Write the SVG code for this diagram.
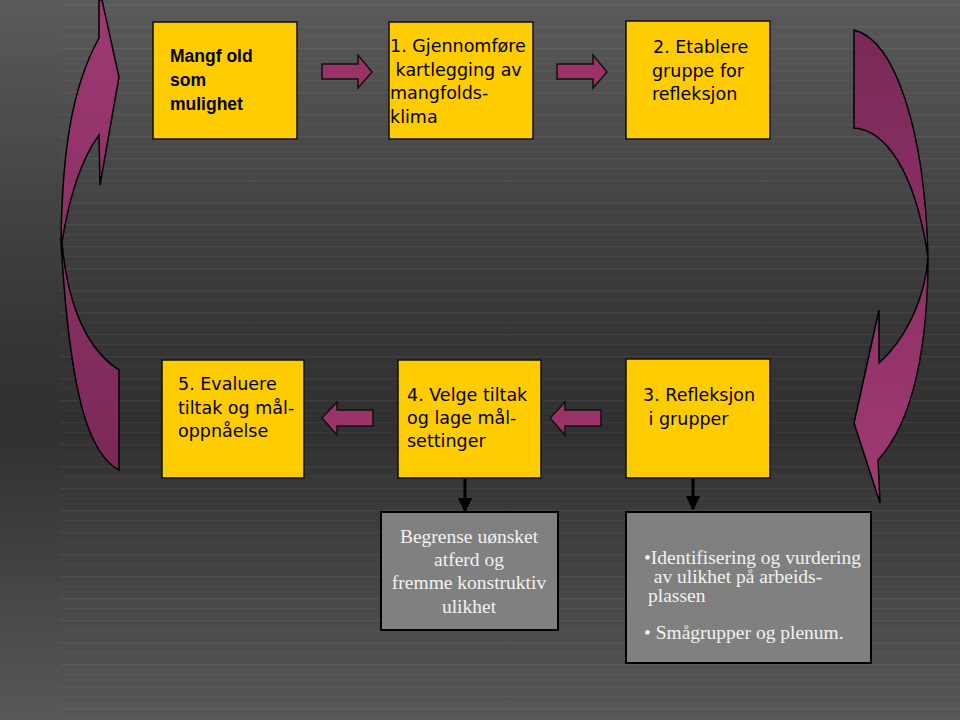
<svg xmlns="http://www.w3.org/2000/svg" width="960" height="720" viewBox="0 0 960 720">
<defs>
<linearGradient id="bg" x1="0" y1="0" x2="0" y2="1">
<stop offset="0" stop-color="#5a5a5a"/>
<stop offset="0.45" stop-color="#363636"/>
<stop offset="0.6" stop-color="#303030"/>
<stop offset="1" stop-color="#585858"/>
</linearGradient>
<pattern id="stripes" x="0" y="0" width="960" height="22" patternUnits="userSpaceOnUse">
<rect x="60" y="4" width="900" height="1.2" fill="#ffffff" opacity="0.06"/>
<rect x="60" y="14" width="900" height="1" fill="#ffffff" opacity="0.04"/>
</pattern>
<linearGradient id="mag" x1="0" y1="0" x2="0" y2="1">
<stop offset="0" stop-color="#9e3a72"/>
<stop offset="1" stop-color="#7a2858"/>
</linearGradient>
<linearGradient id="mag2" x1="0" y1="0" x2="0" y2="1">
<stop offset="0" stop-color="#7a2858"/>
<stop offset="1" stop-color="#a03a74"/>
</linearGradient>
<marker id="ah" viewBox="0 0 10 10" refX="9" refY="5" markerWidth="5" markerHeight="5" orient="auto">
<path d="M0,0 L10,5 L0,10 Z" fill="#000"/>
</marker>
</defs>
<style>
text{white-space:pre}
.ybox{fill:#ffcc00;stroke:#111;stroke-width:1.5}
.gbox{fill:#808080;stroke:#000;stroke-width:2}
.sarrow{fill:#9a3468;stroke:#111;stroke-width:1.5}
.big{stroke:#000;stroke-width:1.5}
.comic{font-family:"DejaVu Sans",sans-serif;font-size:17.5px;fill:#000}
.arial{font-family:"Liberation Sans",Arial,sans-serif;font-size:17.5px;font-weight:bold;fill:#000}
.serif{font-family:"Liberation Serif","Times New Roman",serif;font-size:19.5px;fill:#f2f2f2}
.conn{stroke:#000;stroke-width:3;fill:none}
</style>
<rect width="960" height="720" fill="url(#bg)"/>
<rect width="960" height="720" fill="url(#stripes)"/>

<g id="bigarrow-left">
<path class="big" fill="url(#mag)" d="M99,0 L102,0 L119,77 L100,185 L99,135 C88,150 72,180 62,242 C66,290 80,345 119,370 L119,470 C90,455 70,400 61,242 C62,160 70,90 99,38 Z"/>
</g>
<g id="bigarrow-right">
<path class="big" fill="url(#mag2)" d="M854,30 C895,40 925,130 928,257 C928,340 915,420 878,460 L880,503 L854,423 L879,310 L879,363 C905,340 925,300 928,257 C915,170 885,130 854,128 Z"/>
</g>

<g id="connectors">
<path class="sarrow" d="M322,64 L358,64 L358,55 L372,72 L358,88 L358,79 L322,79 Z"/>
<path class="sarrow" d="M557,64 L593,64 L593,55 L607,72 L593,88 L593,79 L557,79 Z"/>
<path class="sarrow" d="M373,410 L337,410 L337,402 L322,418 L337,435 L337,426 L373,426 Z"/>
<path class="sarrow" d="M601,410 L565,410 L565,402 L550,418 L565,435 L565,426 L601,426 Z"/>
<line class="conn" x1="465" y1="478" x2="465" y2="511" marker-end="url(#ah)"/>
<line class="conn" x1="693" y1="478" x2="693" y2="509" marker-end="url(#ah)"/>
</g>

<g id="node-mangfold">
<rect class="ybox" x="153" y="22" width="144" height="117"/>
<text class="arial" x="170" y="62">Mangf old</text>
<text class="arial" x="170" y="86">som</text>
<text class="arial" x="170" y="110">mulighet</text>
</g>
<g id="node-1">
<rect class="ybox" x="389" y="22" width="144" height="117"/>
<text class="comic" x="390" y="52">1. Gjennomføre</text>
<text class="comic" x="390" y="76"> kartlegging av</text>
<text class="comic" x="390" y="99">mangfolds-</text>
<text class="comic" x="390" y="123">klima</text>
</g>
<g id="node-2">
<rect class="ybox" x="626" y="21" width="144" height="118"/>
<text class="comic" x="653" y="53">2. Etablere</text>
<text class="comic" x="652" y="77">gruppe for</text>
<text class="comic" x="652" y="100">refleksjon</text>
</g>
<g id="node-5">
<rect class="ybox" x="162" y="360" width="142" height="118"/>
<text class="comic" x="178" y="390">5. Evaluere</text>
<text class="comic" x="178" y="414">tiltak og mål-</text>
<text class="comic" x="178" y="437">oppnåelse</text>
</g>
<g id="node-4">
<rect class="ybox" x="398" y="360" width="143" height="118"/>
<text class="comic" x="407" y="401">4. Velge tiltak</text>
<text class="comic" x="407" y="424">og lage mål-</text>
<text class="comic" x="407" y="447">settinger</text>
</g>
<g id="node-3">
<rect class="ybox" x="626" y="359" width="144" height="119"/>
<text class="comic" x="643" y="401">3. Refleksjon</text>
<text class="comic" x="643" y="425"> i grupper</text>
</g>
<g id="node-begrense">
<rect class="gbox" x="381" y="512" width="177" height="118"/>
<text class="serif" text-anchor="middle" x="469" y="543">Begrense uønsket</text>
<text class="serif" text-anchor="middle" x="469" y="566">atferd og</text>
<text class="serif" text-anchor="middle" x="469" y="589">fremme konstruktiv</text>
<text class="serif" text-anchor="middle" x="469" y="613">ulikhet</text>
</g>
<g id="node-identifisering">
<rect class="gbox" x="626" y="512" width="245" height="151"/>
<text class="serif" x="644" y="564">•Identifisering og vurdering</text>
<text class="serif" x="644" y="583">  av ulikhet på arbeids-</text>
<text class="serif" x="648" y="602">plassen</text>
<text class="serif" x="644" y="639">• Smågrupper og plenum.</text>
</g>
</svg>
